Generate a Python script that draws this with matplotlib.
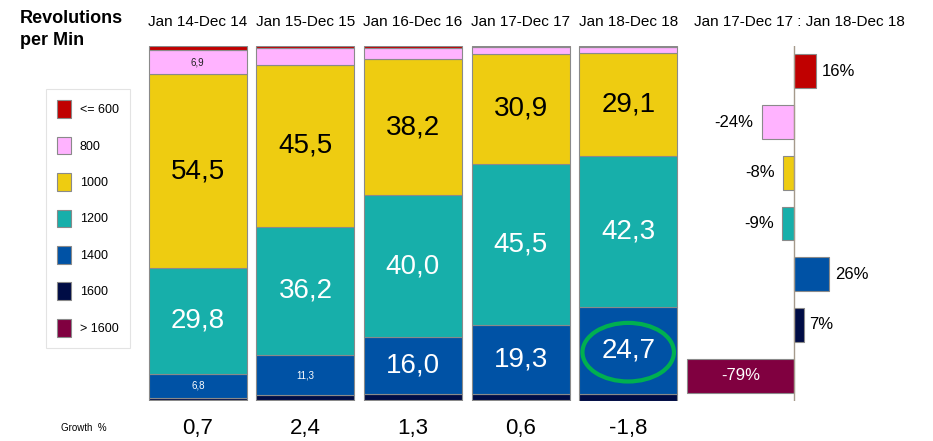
import numpy as np
import matplotlib
matplotlib.use("Agg")
import matplotlib.pyplot as plt
import matplotlib.transforms as mtransforms
from matplotlib.patches import Ellipse

plt.rcParams['font.family'] = ['Liberation Sans', 'DejaVu Sans']

periods = ['Jan 14-Dec 14', 'Jan 15-Dec 15', 'Jan 16-Dec 16', 'Jan 17-Dec 17', 'Jan 18-Dec 18']
rpm_classes = ['<= 600', '800', '1000', '1200', '1400', '1600', '> 1600']

# share of each rpm class per period (%)
share_le600 = [1.1, 0.6, 0.5, 0.3, 0.3]
share_800 = [6.9, 4.8, 3.3, 1.9, 1.7]
share_1000 = [54.5, 45.5, 38.2, 30.9, 29.1]
share_1200 = [29.8, 36.2, 40.0, 45.5, 42.3]
share_1400 = [6.8, 11.3, 16.0, 19.3, 24.7]
share_1600 = [0.7, 1.4, 1.6, 1.8, 1.8]
share_gt1600 = [0.2, 0.2, 0.4, 0.3, 0.1]

growth_total = ['0,7', '2,4', '1,3', '0,6', '-1,8']
growth_18_vs_17 = [16, -24, -8, -9, 26, 7, -79]

colors = ['#C00000', '#FFB3FF', '#EECC11', '#17AFAA', '#0052A5', '#000C45', '#800040']
label_colors = ['black', '#222222', 'black', 'white', 'white', 'white', 'white']

shares = [share_le600, share_800, share_1000, share_1200, share_1400, share_1600, share_gt1600]

fig = plt.figure(figsize=(9.33, 4.41), dpi=100)

# stacked bars
ax = fig.add_axes([144 / 933, 40 / 441, 538 / 933, 355 / 441])
x = np.arange(len(periods))
bottom = np.zeros(len(periods))
handles = []
# stack from the bottom: > 1600 first
for k in range(len(rpm_classes) - 1, -1, -1):
    vals = np.array(shares[k])
    bars = ax.bar(x, vals, 0.91, bottom=bottom, color=colors[k],
                  edgecolor='#8a8a8a', linewidth=0.8)
    handles.append(bars)
    for i, v in enumerate(vals):
        if v >= 6.5:
            fs = 7 if v < 12 else 20
            ax.text(x[i], bottom[i] + v / 2, ('%.1f' % v).replace('.', ','),
                    ha='center', va='center', fontsize=fs, color=label_colors[k])
    bottom += vals
handles = handles[::-1]

ax.set_xlim(-0.5, 4.5)
ax.set_ylim(0, 100)
ax.axis('off')

# circle on the last 1400 value
cum = np.cumsum([share_gt1600[4], share_1600[4]])[-1]
ax.add_patch(Ellipse((4, cum + share_1400[4] / 2 - 0.5), 0.85, 16.5,
                     fill=False, edgecolor='#00B050', linewidth=3))

trans = mtransforms.blended_transform_factory(ax.transData, ax.transAxes)
for i, p in enumerate(periods):
    ax.text(i, 1.068, p, transform=trans, ha='center', va='center', fontsize=11)
    ax.text(i, -0.078, growth_total[i], transform=trans, ha='center', va='center', fontsize=16)

fig.text(84 / 933, 1 - 428 / 441, 'Growth  %', ha='center', va='center', fontsize=7)

# growth chart on the right
ax2 = fig.add_axes([680 / 933, 40 / 441, 250 / 933, 355 / 441])
y = np.arange(len(rpm_classes))
ax2.barh(y, growth_18_vs_17, 0.67, color=colors, edgecolor='#8a8a8a', linewidth=0.8)
ax2.axvline(0, color='#a59a8c', linewidth=1)
for i, g in enumerate(growth_18_vs_17):
    txt = '%d%%' % g
    if g < -50:
        ax2.text(g / 2, i, txt, ha='center', va='center', fontsize=12, color='white')
    elif g < 0:
        ax2.annotate(txt, (g, i), xytext=(-6, 0), textcoords='offset points',
                     ha='right', va='center', fontsize=12)
    else:
        ax2.annotate(txt, (g, i), xytext=(4, 0), textcoords='offset points',
                     ha='left', va='center', fontsize=12)
ax2.set_xlim(-84, 100)
ax2.set_ylim(6.5, -0.5)
ax2.axis('off')

fig.text(799 / 933, 1 - 22 / 441, 'Jan 17-Dec 17 : Jan 18-Dec 18', ha='center', va='center', fontsize=11)

fig.text(20 / 933, 1 - 10 / 441, 'Revolutions\nper Min', ha='left', va='top',
         fontsize=13, fontweight='bold', linespacing=1.35)

leg = fig.legend(handles, rpm_classes, loc='upper left', bbox_to_anchor=(46 / 933, 1 - 89 / 441),
                 fontsize=9, frameon=True, fancybox=False, handlelength=1.1, handleheight=1.8,
                 labelspacing=1.5, handletextpad=0.7, borderpad=0.9, borderaxespad=0)
leg.get_frame().set_edgecolor('#dddddd')
leg.get_frame().set_linewidth(0.8)

fig.savefig('out.png', dpi=100)
